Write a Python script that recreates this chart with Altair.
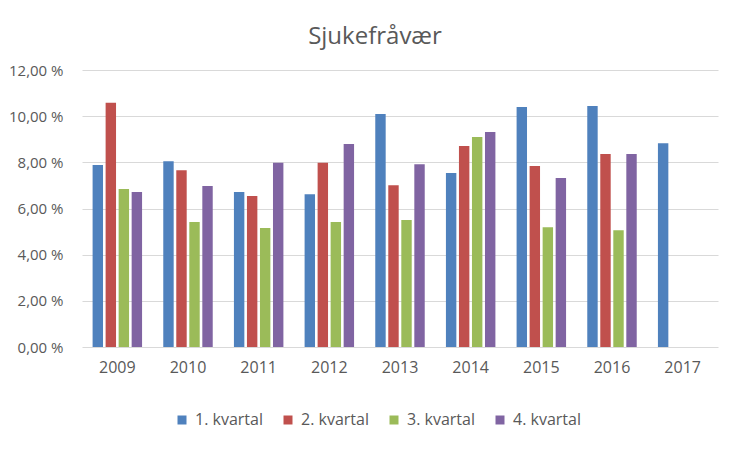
import altair as alt
import pandas as pd

years = ["2009", "2010", "2011", "2012", "2013", "2014", "2015", "2016", "2017"]
quarters = ["1. kvartal", "2. kvartal", "3. kvartal", "4. kvartal"]
q1 = [7.88, 8.05, 6.71, 6.62, 10.09, 7.54, 10.40, 10.44, 8.83]
q2 = [10.58, 7.66, 6.54, 7.98, 7.01, 8.71, 7.84, 8.36, None]
q3 = [6.84, 5.41, 5.15, 5.41, 5.50, 9.10, 5.19, 5.06, None]
q4 = [6.71, 6.97, 7.98, 8.79, 7.92, 9.31, 7.32, 8.36, None]
colors = ["#4F81BD", "#C0504D", "#9BBB59", "#8064A2"]

rows = []
for qname, series in zip(quarters, [q1, q2, q3, q4]):
    for y, v in zip(years, series):
        if v is not None:
            rows.append({"year": y, "kvartal": qname, "value": v})
df = pd.DataFrame(rows)

FONT = "Open Sans"
TXT = "#595959"

chart = alt.Chart(df).mark_bar().encode(
    x=alt.X("year:N", sort=years,
            scale=alt.Scale(domain=years, paddingInner=0.3, paddingOuter=0.15),
            axis=alt.Axis(title=None, labelAngle=0, ticks=False, domain=False,
                          labelPadding=12, labelFontSize=16, labelColor=TXT,
                          labelFont=FONT)),
    xOffset=alt.XOffset("kvartal:N", sort=quarters,
                        scale=alt.Scale(domain=quarters, paddingInner=0.2, paddingOuter=0)),
    y=alt.Y("value:Q",
            scale=alt.Scale(domain=[0, 12], nice=False),
            axis=alt.Axis(title=None, values=[0, 2, 4, 6, 8, 10, 12], ticks=False,
                          domain=False, grid=True, gridColor="#D9D9D9", gridWidth=1,
                          labelPadding=19, labelFontSize=15, labelColor=TXT,
                          labelFont=FONT,
                          labelExpr="replace(format(datum.value, '.2f'), '.', ',') + ' %'")),
    color=alt.Color("kvartal:N", sort=quarters,
                    scale=alt.Scale(domain=quarters, range=colors),
                    legend=alt.Legend(title=None, orient="none", legendX=92, legendY=342,
                                      direction="horizontal", columns=4,
                                      symbolType="square", symbolSize=81,
                                      symbolStrokeWidth=0, labelFontSize=16,
                                      labelColor=TXT, labelFont=FONT, labelOffset=5,
                                      columnPadding=17)),
).properties(
    width=636,
    height=277,
    title=alt.TitleParams("Sjukefråvær", fontSize=24, font=FONT, color=TXT,
                          fontWeight="normal", anchor="middle", dx=-25, offset=14),
    autosize=alt.AutoSizeParams(type="none"),
    padding={"left": 74, "top": 62, "right": 26, "bottom": 97},
).configure_view(stroke=None)

chart.save("out.html", embed_options={"renderer": "svg", "actions": False})
